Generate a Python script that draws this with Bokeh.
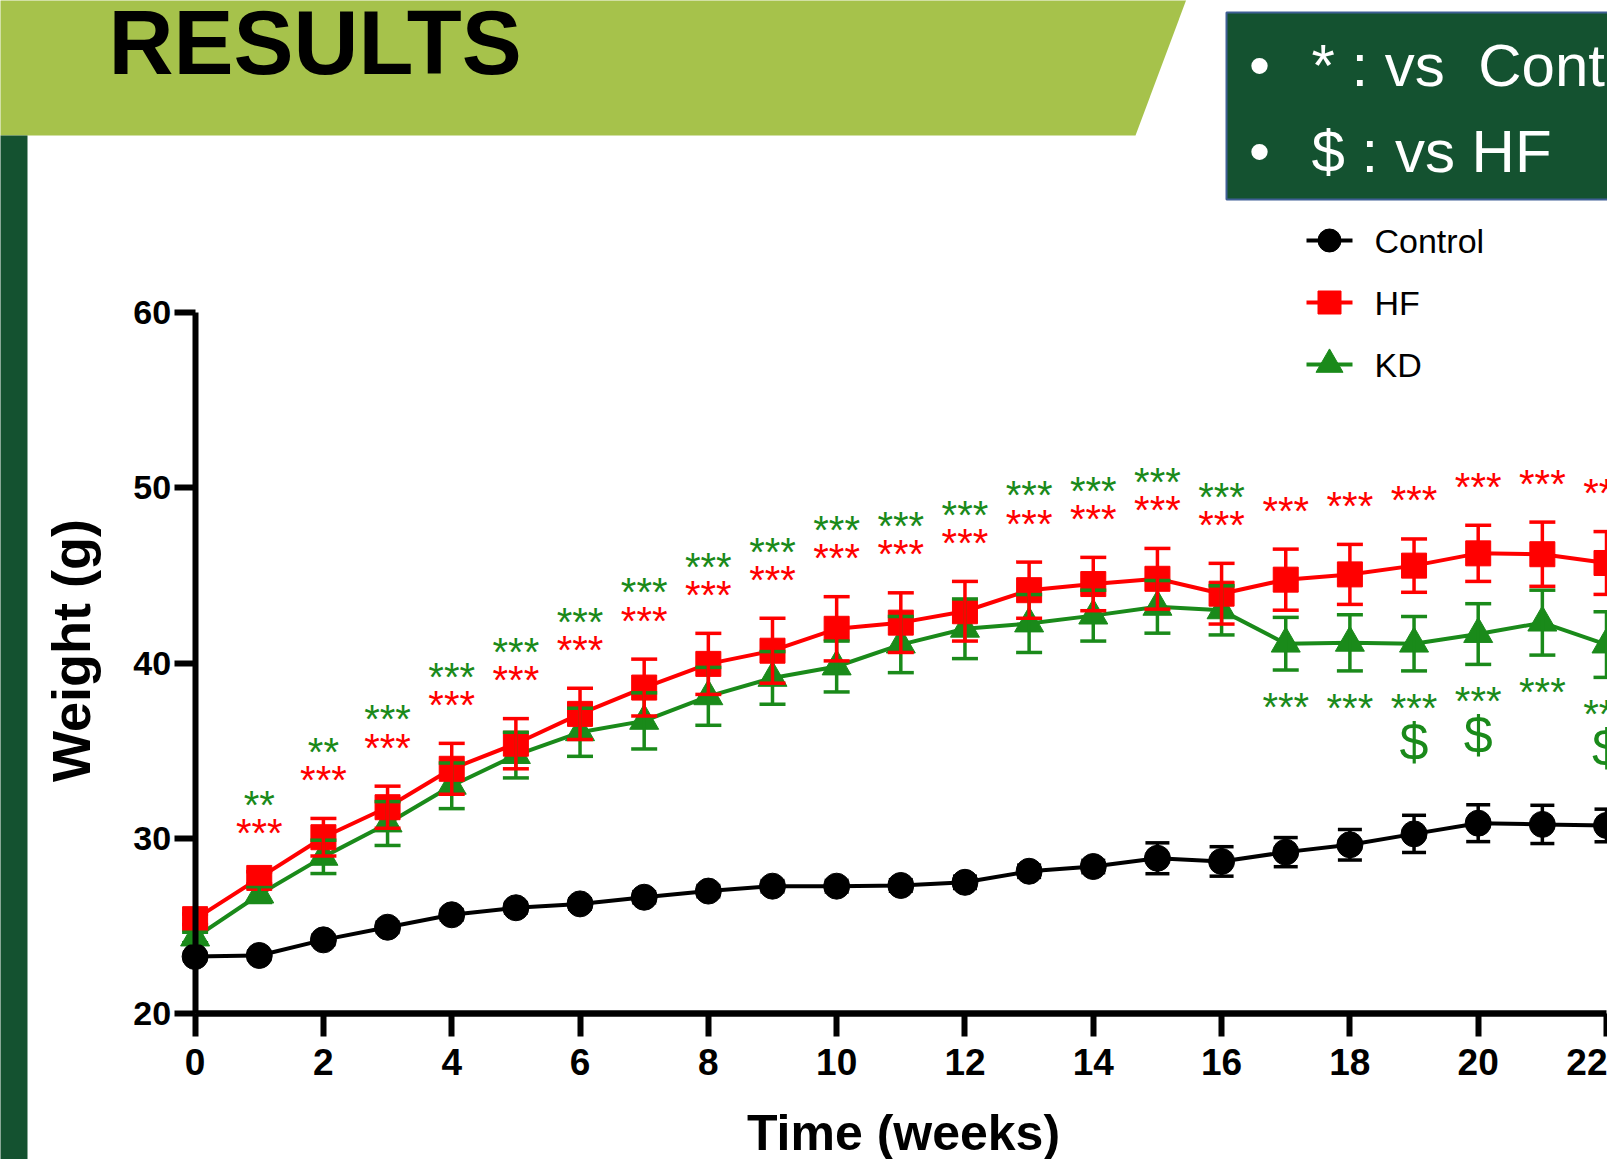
import math
from bokeh.plotting import figure
from bokeh.models import Range1d, LinearAxis, FixedTicker, ColumnDataSource, Whisker, TeeHead
from bokeh.core.properties import value
from bokeh.embed import file_html
from bokeh.resources import INLINE

# ---------------- data ----------------
weeks = list(range(23))
control_mean = [23.27, 23.33, 24.22, 24.94, 25.65, 26.05, 26.27, 26.65, 27.0, 27.28, 27.28, 27.32,
                27.5, 28.13, 28.4, 28.87, 28.69, 29.22, 29.64, 30.26, 30.87, 30.8, 30.74]
control_sem = [0.25, 0.25, 0.28, 0.3, 0.3, 0.3, 0.3, 0.32, 0.32, 0.32, 0.33, 0.33,
               0.35, 0.35, 0.35, 0.88, 0.84, 0.83, 0.87, 1.06, 1.05, 1.09, 0.93]
hf_mean = [25.4, 27.75, 30.07, 31.78, 33.97, 35.4, 37.1, 38.6, 39.95, 40.7, 41.95, 42.3,
           42.95, 44.15, 44.5, 44.8, 43.95, 44.75, 45.05, 45.55, 46.25, 46.2, 45.7]
hf_sem = [0.3, 0.35, 1.07, 1.2, 1.45, 1.43, 1.46, 1.62, 1.74, 1.85, 1.83, 1.7,
          1.7, 1.6, 1.52, 1.73, 1.73, 1.74, 1.71, 1.52, 1.6, 1.83, 1.79]
kd_mean = [24.35, 26.8, 28.95, 30.85, 33.0, 34.75, 36.05, 36.7, 38.1, 39.15, 39.8, 41.05,
           41.95, 42.25, 42.7, 43.2, 43.0, 41.1, 41.15, 41.1, 41.65, 42.3, 41.05]
kd_sem = [0.3, 0.45, 0.95, 1.25, 1.3, 1.3, 1.37, 1.6, 1.65, 1.5, 1.45, 1.6,
          1.7, 1.65, 1.45, 1.5, 1.4, 1.5, 1.6, 1.55, 1.73, 1.85, 1.87]

# significance marks (per week)
hf_vs_control = [""] + ["***"] * 22
kd_vs_control = ["", "**", "**"] + ["***"] * 20
kd_vs_hf = [""] * 19 + ["$", "$", "", "$"]

series_names = ["Control", "HF", "KD"]
y_ticks = [20, 30, 40, 50, 60]
x_ticks = list(range(0, 23, 2))
bullet_lines = ["* : vs\u00a0 Control", "$ : vs HF"]
title_text = "RESULTS"

# ---------------- layout (picture pixels) ----------------
W, H = 1607, 1159
X0_PX, PX_PER_WEEK = 194.6, 64.155
Y20_PX, PX_PER_G = 1013.4, 17.545
Q = 0.36  # text placement correction (em)


def dx(px):
    return (px - X0_PX) / PX_PER_WEEK


def dy(py):
    return 20 + (Y20_PX - py) / PX_PER_G


def by(baseline_px, size):
    """data y that puts an alphabetic baseline at baseline_px"""
    return dy(baseline_px - Q * size)


BLACK, RED, GREEN = "#000000", "#FF0000", "#1A8A1A"
DARK = "#145230"
LIGHT = "#A6C24B"
FONT = "Liberation Sans"

p = figure(width=W, height=H,
           x_range=Range1d(dx(0), dx(W)),
           y_range=Range1d(dy(H), dy(0)),
           min_border=0, x_axis_location=None, y_axis_location=None,
           toolbar_location=None, output_backend="svg")
p.outline_line_color = None
p.xgrid.visible = False
p.ygrid.visible = False
p.background_fill_color = "white"
p.border_fill_color = "white"

# ---------------- slide decorations ----------------
p.patch(x=[dx(-20), dx(1193), dx(1135), dx(-20)], y=[dy(-20), dy(-20), dy(135), dy(135)],
        fill_color=LIGHT, line_color=None)
p.quad(left=[dx(-20)], right=[dx(27)], top=[dy(135)], bottom=[dy(1300)],
       fill_color=DARK, line_color=None)
p.quad(left=[dx(1226)], right=[dx(1700)], top=[dy(12)], bottom=[dy(199)],
       fill_color=DARK, line_color="#3F5F95", line_width=2)
p.text(x=[dx(108)], y=[by(74.5, 90)], text=[title_text], text_font=value(FONT),
       text_font_style="bold", text_font_size=value("90px"), text_color="black",
       text_align="left", text_baseline="alphabetic")
for i, line in enumerate(bullet_lines):
    base = 87 + 86 * i
    p.text(x=[dx(1259)], y=[by(base, 60)], text=["\u2022"], text_font=value(FONT),
           text_font_size=value("60px"), text_color="white", text_align="center",
           text_baseline="alphabetic")
    p.text(x=[dx(1311)], y=[by(base, 60)], text=[line], text_font=value(FONT),
           text_font_size=value("60px"), text_color="white", text_align="left",
           text_baseline="alphabetic")

# ---------------- data series ----------------
series = [
    ("KD", kd_mean, kd_sem, GREEN, "triangle", 29, 26),
    ("HF", hf_mean, hf_sem, RED, "square", 25, 26),
    ("Control", control_mean, control_sem, BLACK, "circle", 26, 24),
]
for name, mean, sem, col, mk, sz, cap in series:
    src = ColumnDataSource(dict(x=weeks, y=mean,
                                upper=[m + s for m, s in zip(mean, sem)],
                                lower=[m - s for m, s in zip(mean, sem)]))
    wh = Whisker(source=src, base="x", upper="upper", lower="lower",
                 line_color=col, line_width=3.5, level="glyph",
                 upper_head=TeeHead(size=cap, line_color=col, line_width=3.5),
                 lower_head=TeeHead(size=cap, line_color=col, line_width=3.5))
    p.add_layout(wh)
    p.line("x", "y", source=src, line_color=col, line_width=4)
    p.scatter("x", "y", source=src, marker=mk, size=sz, fill_color=col, line_color=col)

# ---------------- significance marks ----------------
STAR_SHIFT = 0.35     # asterisk visual centre vs text anchor (data units)
DOLLAR_SHIFT = 2.29   # dollar anchor below the KD stars centre (data units)
red_x, red_y, red_t = [], [], []
grn_x, grn_y, grn_t = [], [], []
dol_x, dol_y, dol_t = [], [], []
for w, h, hs, k, ks, a, b, c in zip(weeks, hf_mean, hf_sem, kd_mean, kd_sem,
                                     hf_vs_control, kd_vs_control, kd_vs_hf):
    red_c = h + hs + 2.55
    if a:
        red_x.append(w); red_y.append(red_c - STAR_SHIFT); red_t.append(a)
    below = (h - k) > 2.5
    g_c = (k - ks - 1.76) if below else (red_c + 1.6)
    if b:
        grn_x.append(w); grn_y.append(g_c - STAR_SHIFT); grn_t.append(b)
    if c:
        dol_x.append(w); dol_y.append(g_c - DOLLAR_SHIFT); dol_t.append(c)

p.text(x=red_x, y=red_y, text=red_t, text_font=value(FONT), text_font_size=value("40px"),
       text_color=RED, text_align="center", text_baseline="alphabetic")
p.text(x=grn_x, y=grn_y, text=grn_t, text_font=value(FONT), text_font_size=value("40px"),
       text_color=GREEN, text_align="center", text_baseline="alphabetic")
p.text(x=dol_x, y=dol_y, text=dol_t, text_font=value(FONT), text_font_size=value("52px"),
       text_color=GREEN, text_align="center", text_baseline="alphabetic")

# ---------------- axes ----------------
yax = LinearAxis(fixed_location=0, bounds=(20, 60), ticker=FixedTicker(ticks=y_ticks),
                 axis_line_width=6, major_tick_line_width=6, major_tick_out=21, major_tick_in=0,
                 minor_tick_out=0, minor_tick_in=0, major_label_standoff=3,
                 major_label_text_font=FONT, major_label_text_font_style="bold",
                 major_label_text_font_size="34px", major_label_text_color="black")
xax = LinearAxis(fixed_location=20, bounds=(0, 22), ticker=FixedTicker(ticks=x_ticks),
                 axis_line_width=6.5, major_tick_line_width=6, major_tick_out=23, major_tick_in=0,
                 minor_tick_out=0, minor_tick_in=0, major_label_standoff=12,
                 major_label_text_font=FONT, major_label_text_font_style="bold",
                 major_label_text_font_size="37px", major_label_text_color="black")
p.add_layout(yax, "left")
p.add_layout(xax, "below")

p.text(x=[dx(70)], y=[dy(650)], text=["Weight (g)"], angle=math.pi / 2,
       text_font=value(FONT), text_font_style="bold", text_font_size=value("54px"),
       text_align="center", text_baseline="middle", text_color="black")
p.text(x=[dx(903)], y=[by(1150, 50)], text=["Time (weeks)"],
       text_font=value(FONT), text_font_style="bold", text_font_size=value("50px"),
       text_align="center", text_baseline="alphabetic", text_color="black")

# ---------------- legend ----------------
legend_style = {"Control": (BLACK, "circle", 23), "HF": (RED, "square", 23), "KD": (GREEN, "triangle", 27)}
for i, name in enumerate(series_names):
    col, mk, sz = legend_style[name]
    row = 240 + 62 * i
    p.segment(x0=[dx(1306)], x1=[dx(1352)], y0=[dy(row)], y1=[dy(row)], line_color=col, line_width=4)
    p.scatter(x=[dx(1329)], y=[dy(row)], marker=mk, size=sz, fill_color=col, line_color=col)
    p.text(x=[dx(1374)], y=[by(row + 0.36 * 34, 34)], text=[name], text_font=value(FONT),
           text_font_size=value("34px"), text_color="black", text_align="left",
           text_baseline="alphabetic")

open("out.html", "w").write(file_html(p, INLINE))
